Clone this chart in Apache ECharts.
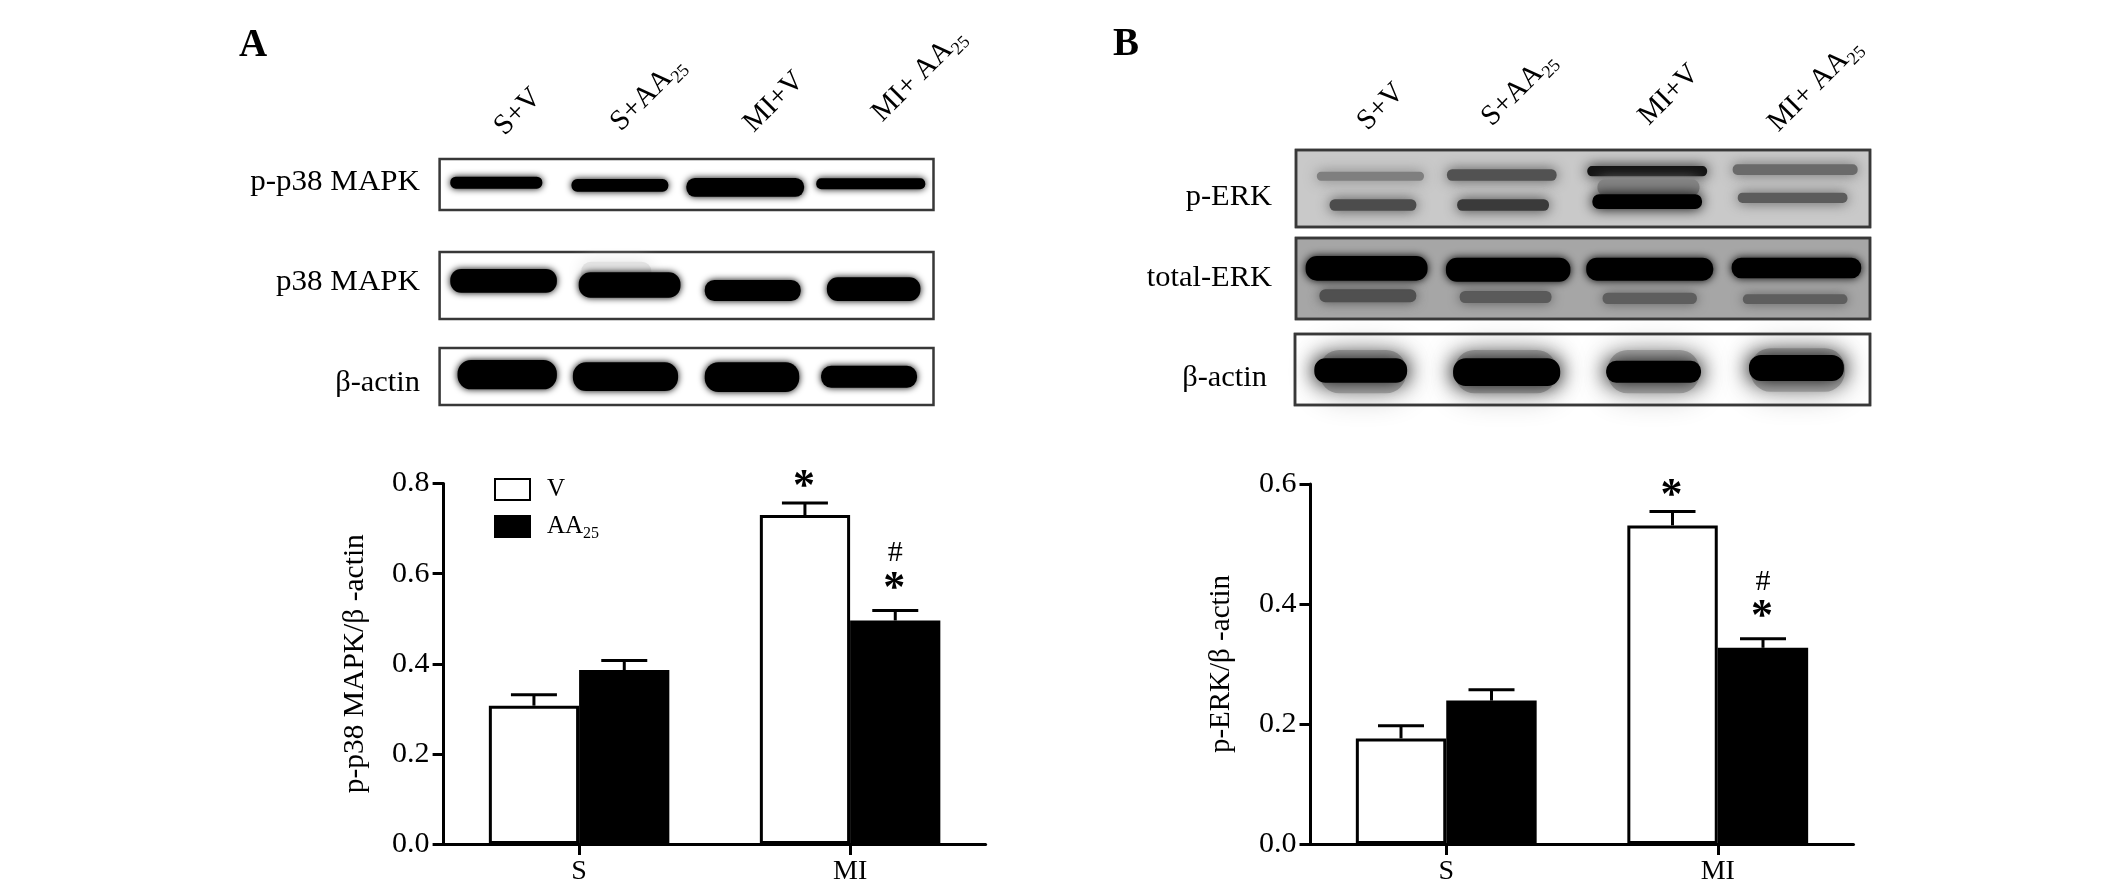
<!DOCTYPE html>
<html><head><meta charset="utf-8">
<style>html,body{margin:0;padding:0;background:#fff}#c{width:2126px;height:886px}</style>
<script src="https://cdn.jsdelivr.net/npm/echarts@6/dist/echarts.min.js"></script>
</head><body><div id="c"></div>
<script>
const categories = ['S', 'MI'];
const yTicksA = {max: 0.8, step: 0.2};
const yTicksB = {max: 0.6, step: 0.2};
const meanVehicleA = [0.307, 0.730];
const meanDrugA = [0.386, 0.496];
const upperVehicleA = [0.331, 0.757];
const upperDrugA = [0.407, 0.518];
const meanVehicleB = [0.176, 0.531];
const meanDrugB = [0.239, 0.327];
const upperVehicleB = [0.197, 0.554];
const upperDrugB = [0.257, 0.342];
const marksVehicle = [[], ['*']];
const marksDrug = [[], ['*', '#']];

const FONT = '"Liberation Serif","Times New Roman",serif';
const chart = echarts.init(document.getElementById('c'), null, {renderer: 'canvas'});

function axisLine(){ return {show: true, onZero: false, lineStyle: {color: '#000', width: 3}}; }

function errSeries(name, gi, sign, means, uppers, marks){
  return {
    name: name + ' error', type: 'custom', xAxisIndex: gi, yAxisIndex: gi, z: 5, clip: false,
    silent: true, legendHoverLink: false,
    encode: {x: 0, y: 2},
    data: categories.map((c, i) => [i, means[i], uppers[i]]),
    renderItem(params, api){
      const band = api.size([1, 0])[0];
      const base = api.coord([api.value(0), api.value(1)]);
      const top = api.coord([api.value(0), api.value(2)]);
      const x = base[0] + sign * band / 6;
      const children = [
        {type: 'line', shape: {x1: x, y1: base[1], x2: x, y2: top[1]}, style: {stroke: '#000', lineWidth: 3}},
        {type: 'line', shape: {x1: x - 23, y1: top[1], x2: x + 23, y2: top[1]}, style: {stroke: '#000', lineWidth: 3}}
      ];
      const ms = marks[api.value(0)] || [];
      ms.forEach((m) => {
        const star = m === '*';
        children.push({type: 'text', x: x + (star ? -1 : 0), y: top[1] + (star ? (ms.length > 1 ? -21 : -15) : -57), style: {
          text: m, font: (star ? 'bold 44px ' : '30px ') + FONT, fill: '#000', align: 'center', verticalAlign: 'middle'
        }});
      });
      return {type: 'group', children};
    }
  };
}
function barPair(gi, v, d){
  return [
    {name: 'V', type: 'bar', xAxisIndex: gi, yAxisIndex: gi, data: v, barWidth: '33.3%', barGap: 0,
     itemStyle: {color: '#fff', borderColor: '#000', borderWidth: 3}},
    {name: 'AA25', type: 'bar', xAxisIndex: gi, yAxisIndex: gi, data: d, barWidth: '33.3%', barGap: 0,
     itemStyle: {color: '#000', borderColor: '#000', borderWidth: 3}}
  ];
}
function xAx(gi){
  return {type: 'category', gridIndex: gi, data: categories, axisLine: axisLine(),
    axisTick: {show: true, alignWithLabel: true, length: 11, lineStyle: {color: '#000', width: 3}},
    axisLabel: {color: '#000', fontFamily: FONT, fontSize: 28, margin: 14}};
}
function yAx(gi, t, name, gap, size){
  return {type: 'value', gridIndex: gi, min: 0, max: t.max, interval: t.step, name, nameLocation: 'middle', nameGap: gap,
    nameTextStyle: {color: '#000', fontFamily: FONT, fontSize: size},
    axisLine: axisLine(), splitLine: {show: false},
    axisTick: {show: true, length: 11, lineStyle: {color: '#000', width: 3}},
    axisLabel: {color: '#000', fontFamily: FONT, fontSize: 30, margin: 14, formatter: (v) => v.toFixed(1)}};
}

/* blot artwork */
const g = [];
function txt(text, x, y, size, o){
  g.push(Object.assign({type: 'text', x, y, style: {text, font: size + 'px ' + FONT, fill: '#000', align: 'right', verticalAlign: 'middle'}}, o || {}));
}
function rotated(x, y, sub){
  const rich = {a: {font: '29px ' + FONT, fill: '#000', lineHeight: 36, verticalAlign: 'middle'},
                b: {font: '18px ' + FONT, fill: '#000', lineHeight: 18, verticalAlign: 'bottom'}};
  return (label) => g.push({type: 'text', x, y, rotation: 45 * Math.PI / 180,
    style: {text: sub ? '{a|' + label + '}{b|25}' : '{a|' + label + '}', rich, align: 'center', verticalAlign: 'middle'}});
}
function frame(x1, y1, x2, y2, fill){
  g.push({type: 'rect', shape: {x: x1, y: y1, width: x2 - x1, height: y2 - y1}, style: {fill: fill || '#fff', stroke: '#383838', lineWidth: 2.5}});
}
function closeFrame(x1, y1, x2, y2){
  g.push({type: 'rect', shape: {x: x1, y: y1, width: x2 - x1, height: y2 - y1}, style: {fill: 'none', stroke: '#383838', lineWidth: 2.5}});
}
function band(sx, ox, x1, y1, x2, y2, col, blur, inset){
  const X1 = ox + x1 / sx, X2 = ox + x2 / sx, Y1 = y1 / 3, Y2 = y2 / 3, i = inset || 0;
  g.push({type: 'rect', shape: {x: X1 + i, y: Y1 + i, width: X2 - X1 - 2 * i, height: Y2 - Y1 - 2 * i, r: (Y2 - Y1) * 0.46},
    style: {fill: col || '#000', shadowBlur: blur || 4, shadowColor: col || '#000'}});
}
const A = (x1, y1, x2, y2, c, b, i) => band(2.063, 220, x1, y1, x2, y2, c, b, i);
const B = (x1, y1, x2, y2, c, b, i) => band(1.96, 1100, x1, y1, x2, y2, c, b, i);

/* panel A */
frame(439.6, 159, 933.5, 210); frame(439.6, 252, 933.5, 319); frame(439.6, 348, 933.5, 405);
A(745,785,890,850,'#e2e2e2',16,0);
[[475,530,665,566],[725,537,925,575],[962,534,1205,590],[1230,535,1455,568],
 [475,807,695,878],[740,817,950,893],[1000,840,1198,903],[1252,832,1445,903],
 [490,1080,695,1168],[728,1087,945,1173],[1000,1087,1195,1176],[1240,1097,1438,1163]].forEach(b => A(b[0],b[1],b[2],b[3],'#000',7,0));

/* panel B */
frame(1296, 150, 1870, 227, '#c9c9c9');
[[425,515,635,542,'#7f7f7f'],[680,508,895,542,'#525252'],[955,498,1190,529,'#141414'],[1240,493,1485,525,'#6a6a6a'],
 [975,538,1175,587,'#848484'],
 [450,598,620,632,'#4c4c4c'],[700,598,880,632,'#3a3a3a'],[965,583,1180,627,'#000'],[1250,578,1465,609,'#5c5c5c']].forEach(b => B(b[0],b[1],b[2],b[3],b[4],13,0));
closeFrame(1296, 150, 1870, 227);
frame(1296, 238, 1870, 319, '#a6a6a6');
[[430,868,620,907,'#505050'],[705,873,885,909,'#5a5a5a'],[985,878,1170,912,'#5e5e5e'],[1260,883,1465,912,'#5e5e5e']].forEach(b => B(b[0],b[1],b[2],b[3],b[4],12,0));
[[403,768,642,842],[678,773,922,845],[953,773,1202,842],[1238,773,1492,835]].forEach(b => B(b[0],b[1],b[2],b[3],'#000',9,0));
closeFrame(1296, 238, 1870, 319);
frame(1295, 334, 1870, 405, '#fff');
[[430,1050,600,1180],[695,1050,895,1180],[995,1050,1175,1180],[1275,1045,1460,1175]].forEach(b => B(b[0],b[1],b[2],b[3],'#b0b0b0',32,0));
[[420,1075,602,1148],[692,1075,902,1158],[992,1082,1178,1148],[1272,1065,1458,1143]].forEach(b => B(b[0],b[1],b[2],b[3],'#000',20,0));
closeFrame(1295, 334, 1870, 405);

/* text */
txt('A', 239, 46, 39, {style: {text: 'A', font: 'bold 39px ' + FONT, fill: '#000', align: 'left', verticalAlign: 'middle'}});
txt('B', 1113, 45, 39, {style: {text: 'B', font: 'bold 39px ' + FONT, fill: '#000', align: 'left', verticalAlign: 'middle'}});
[['p-p38 MAPK', 420, 182, 1.07], ['p38 MAPK', 420, 282, 1.07], ['β-actin', 420, 383, 1.05],
 ['p-ERK', 1272, 197, 1.05], ['total-ERK', 1272, 278, 1.05], ['β-actin', 1267, 378, 1.05]].forEach(r => txt(r[0], r[1], r[2], 29, {scaleX: r[3]}));
rotated(518, 112, false)('S+V');
rotated(648, 94, true)('S+AA');
rotated(774, 102, false)('MI+V');
rotated(919, 75, true)('MI+ AA');
rotated(1381, 107, false)('S+V');
rotated(1519, 89, true)('S+AA');
rotated(1669, 95, false)('MI+V');
rotated(1815, 85, true)('MI+ AA');

chart.setOption({
  animation: false,
  backgroundColor: '#fff',
  textStyle: {fontFamily: FONT},
  grid: [
    {left: 443.6, width: 542, top: 483.5, height: 362},
    {left: 1310.5, width: 543, top: 484, height: 361}
  ],
  legend: {
    left: 494, top: 477, padding: 0, orient: 'vertical', itemWidth: 35, itemHeight: 21, itemGap: 12, selectedMode: false, icon: 'rect',
    data: ['V', 'AA25'],
    formatter: (n) => n === 'AA25' ? '{a|AA}{b|25}' : '{a|V}',
    textStyle: {rich: {
      a: {fontFamily: FONT, fontSize: 25, color: '#000', lineHeight: 30, verticalAlign: 'middle', padding: [0, 0, 0, 12]},
      b: {fontFamily: FONT, fontSize: 16, color: '#000', lineHeight: 16, verticalAlign: 'bottom'}
    }}
  },
  xAxis: [xAx(0), xAx(1)],
  yAxis: [yAx(0, yTicksA, 'p-p38 MAPK/β -actin', 73, 29.5), yAx(1, yTicksB, 'p-ERK/β -actin', 75, 29)],
  series: [
    ...barPair(0, meanVehicleA, meanDrugA),
    errSeries('VA', 0, -1, meanVehicleA, upperVehicleA, marksVehicle),
    errSeries('DA', 0, 1, meanDrugA, upperDrugA, marksDrug),
    ...barPair(1, meanVehicleB, meanDrugB),
    errSeries('VB', 1, -1, meanVehicleB, upperVehicleB, marksVehicle),
    errSeries('DB', 1, 1, meanDrugB, upperDrugB, marksDrug)
  ],
  graphic: {elements: g}
});
</script></body></html>
